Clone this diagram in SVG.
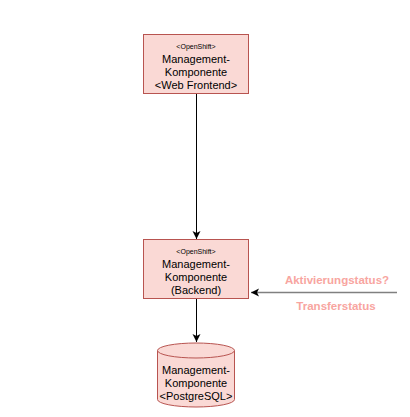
<svg xmlns="http://www.w3.org/2000/svg" width="410" height="417" viewBox="0 0 410 417">
<style>
.node{fill:#fad9d5;stroke:#b85450;stroke-width:1}
.t{font-family:"Liberation Sans",Arial,sans-serif;font-size:11px;fill:#000;text-anchor:middle}
.s{font-family:"Liberation Sans",Arial,sans-serif;font-size:7px;fill:#000;text-anchor:middle}
.lbl{font-family:"Liberation Sans",Arial,sans-serif;font-size:11.5px;font-weight:bold;fill:#f8a5a0;text-anchor:middle}
.c{fill:none;stroke:#000;stroke-width:1}
</style>
<defs>
<marker id="arr" markerWidth="10" markerHeight="10" refX="8" refY="5" orient="auto" markerUnits="userSpaceOnUse">
<path d="M0,1 L8,5 L0,9 L2,5 Z" fill="#000"/>
</marker>
</defs>
<rect width="410" height="417" fill="#fff"/>
<g id="connectors">
<line class="c" x1="196.5" y1="94" x2="196.5" y2="239" marker-end="url(#arr)"/>
<line class="c" x1="196.5" y1="299" x2="196.5" y2="342" marker-end="url(#arr)"/>
<line x1="397" y1="292.5" x2="251" y2="292.5" stroke="#808080" stroke-width="1.5" marker-end="url(#arr)"/>
</g>
<g id="frontend">
<rect class="node" x="143.5" y="34.5" width="105" height="59"/>
<text class="s" x="196" y="49">&lt;OpenShift&gt;</text>
<text class="t" x="196" y="63">Management-</text>
<text class="t" x="196" y="76">Komponente</text>
<text class="t" x="196" y="89">&lt;Web Frontend&gt;</text>
</g>
<g id="backend">
<rect class="node" x="143.5" y="239.5" width="105" height="59"/>
<text class="s" x="196" y="254">&lt;OpenShift&gt;</text>
<text class="t" x="196" y="268">Management-</text>
<text class="t" x="196" y="281">Komponente</text>
<text class="t" x="196" y="294">(Backend)</text>
</g>
<g id="db">
<path class="node" d="M157.5,350.5 L157.5,399.5 A38.5,7.5 0 0 0 234.5,399.5 L234.5,350.5 A38.5,7.5 0 0 0 157.5,350.5 Z"/>
<path class="node" d="M157.5,350.5 A38.5,7.5 0 0 0 234.5,350.5" fill="none"/>
<text class="t" x="196" y="374">Management-</text>
<text class="t" x="196" y="387">Komponente</text>
<text class="t" x="196" y="400">&lt;PostgreSQL&gt;</text>
</g>
<g id="labels">
<text class="lbl" x="337" y="284">Aktivierungstatus?</text>
<text class="lbl" x="336" y="310">Transferstatus</text>
</g>
</svg>
